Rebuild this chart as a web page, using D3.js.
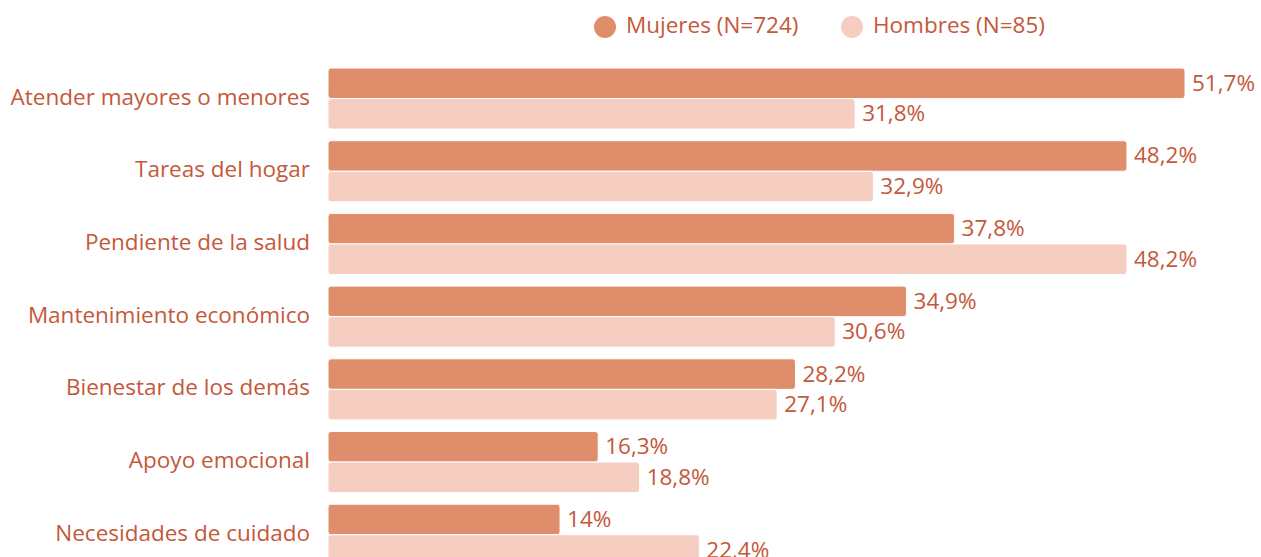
<!DOCTYPE html>
<html><head><meta charset="utf-8">
<script src="https://cdn.jsdelivr.net/npm/d3@7"></script>
<style>html,body{margin:0;padding:0;background:#fff;overflow:hidden}</style>
</head><body>
<svg id="c" width="1261" height="557"></svg>
<script>
const categories = ["Atender mayores o menores","Tareas del hogar","Pendiente de la salud","Mantenimiento económico","Bienestar de los demás","Apoyo emocional","Necesidades de cuidado"];
const seriesNames = ["Mujeres (N=724)","Hombres (N=85)"];
const mujeres = [51.7,48.2,37.8,34.9,28.2,16.3,14];
const hombres = [31.8,32.9,48.2,30.6,27.1,18.8,22.4];
const colors = ["#E08D6B","#F5CDC1"];
const textColor = "#C4583A";
const font = "'Open Sans', sans-serif";
const fs = 22.5;

const svg = d3.select("#c");
const x = d3.scaleLinear().domain([0, 51.7]).range([328, 1185]);
const y = d3.scaleBand().domain(categories).range([62.2, 62.2 + 72.7*7]).paddingInner(0).paddingOuter(0);
const inner = d3.scaleBand().domain([0,1]).range([5.8, 72.7-5.8]);
const fmt = v => String(v).replace(".", ",") + "%";

const data = [mujeres, hombres];
categories.forEach((c, i) => {
  data.forEach((vals, s) => {
    const v = vals[i];
    const y0 = y(c) + inner(s);
    const h = inner.bandwidth();
    svg.append("rect")
      .attr("x", x(0)).attr("y", y0)
      .attr("width", x(v) - x(0)).attr("height", h)
      .attr("rx", 3).attr("ry", 3)
      .attr("fill", colors[s]).attr("stroke", "#fff").attr("stroke-width", 1);
    svg.append("text")
      .attr("x", x(v) + 7).attr("y", y0 + h/2 + 7.5)
      .attr("font-family", font).attr("font-size", fs)
      .attr("fill", textColor).text(fmt(v));
  });
  svg.append("text")
    .attr("x", 310).attr("y", y(c) + y.bandwidth()/2 + 6)
    .attr("text-anchor", "end")
    .attr("font-family", font).attr("font-size", fs)
    .attr("fill", textColor).text(c);
});

// legend
const legendX = [605, 852];
seriesNames.forEach((n, s) => {
  svg.append("circle").attr("cx", legendX[s]).attr("cy", 27).attr("r", 11).attr("fill", colors[s]);
  svg.append("text").attr("x", legendX[s] + 21).attr("y", 33)
    .attr("font-family", font).attr("font-size", fs)
    .attr("fill", textColor).text(n);
});
</script>
</body></html>
